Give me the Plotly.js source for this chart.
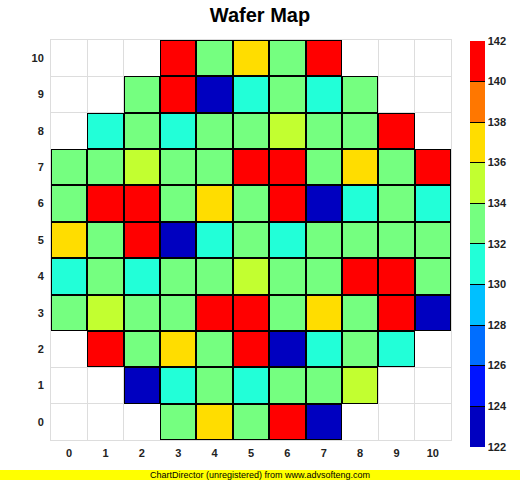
<!DOCTYPE html>
<html>
<head>
<meta charset="utf-8">
<script src="https://cdn.plot.ly/plotly-3.0.1.min.js"></script>
<style>html,body{margin:0;padding:0;background:#fff}#chart{width:520px;height:480px}</style>
</head>
<body>
<div id="chart"></div>
<script>
// Grid coordinates and tick labels
const xCats = [0,1,2,3,4,5,6,7,8,9,10];
const yCats = [0,1,2,3,4,5,6,7,8,9,10];
// Cell values, one array per row (y = 0 .. 10); null = no die
const row0  = [null,null,null,133,137,133,141,123,null,null,null];
const row1  = [null,null,123,131,133,131,133,133,135,null,null];
const row2  = [null,141,133,137,133,141,123,131,133,131,null];
const row3  = [133,135,133,133,141,141,133,137,133,141,123];
const row4  = [131,133,131,133,133,135,133,133,141,141,133];
const row5  = [137,133,141,123,131,133,131,133,133,133,133];
const row6  = [133,141,141,133,137,133,141,123,131,133,131];
const row7  = [133,133,135,133,133,141,141,133,137,133,141];
const row8  = [null,131,133,131,133,133,135,133,133,141,null];
const row9  = [null,null,133,141,123,131,133,131,133,null,null];
const row10 = [null,null,null,141,133,137,133,141,null,null,null];
// Color bands 122..142, step 2
const bandColors = ['#0000C0','#0014FF','#006EFF','#00C0FF','#22FFD8','#75FF80','#C2FF30','#FFDD00','#FF7700','#FF0000'];
const zMin = 122, zMax = 142;
const colorTicks = [122,124,126,128,130,132,134,136,138,140,142];

const z = [row0,row1,row2,row3,row4,row5,row6,row7,row8,row9,row10];
const mask = z.map(r => r.map(v => v === null ? null : 1));
const cs = [];
bandColors.forEach((c,i) => {
  cs.push([i/bandColors.length, c]);
  cs.push([(i+1)/bandColors.length, c]);
});

const F = 'Liberation Sans, Arial, sans-serif';
const under = {
  type:'heatmap', x:xCats, y:yCats, z:mask,
  colorscale:[[0,'#000'],[1,'#000']], showscale:false, hoverinfo:'skip', zmin:0, zmax:1
};
const main = {
  type:'heatmap', x:xCats, y:yCats, z:z,
  colorscale:cs, zmin:zMin, zmax:zMax, xgap:2, ygap:2,
  colorbar:{
    x:1.0475, xanchor:'left', xpad:0, ypad:0,
    y:0.998, yanchor:'top', lenmode:'pixels', len:406,
    thicknessmode:'pixels', thickness:15, outlinewidth:0,
    tickvals:colorTicks, ticktext:colorTicks.map(v=>'<b>'+v+'</b>'),
    ticks:'inside', ticklen:15, tickcolor:'#000', tickwidth:1,
    ticklabelstandoff:3,
    tickfont:{family:F, size:11, color:'#222'}
  }
};
const axisCommon = {
  range:[-0.5,10.5], tickvals:xCats, ticktext:xCats.map(v=>'<b>'+v+'</b>'),
  showgrid:false, zeroline:false, ticks:'', fixedrange:true,
  showline:true, mirror:true, linecolor:'#dddddd', linewidth:1,
  minor:{tick0:0.5, dtick:1, showgrid:true, gridcolor:'#dddddd', gridwidth:1, ticks:''},
  tickfont:{family:F, size:11, color:'#222'}
};
const layout = {
  width:520, height:480,
  margin:{l:51, r:69, t:40, b:40, autoexpand:false},
  paper_bgcolor:'#fff', plot_bgcolor:'#fff',
  title:{text:'<b>Wafer Map</b>', font:{family:F, size:20, color:'#000'}, x:0.5, xanchor:'center', y:0.968, yanchor:'middle'},
  xaxis:Object.assign({}, axisCommon, {ticklabelstandoff:3}),
  yaxis:Object.assign({}, axisCommon, {ticklabelstandoff:4}),
  shapes:[{type:'rect', xref:'paper', yref:'paper', x0:-0.2, x1:1.3, y0:-0.075, y1:-0.1, fillcolor:'#FFFF00', line:{width:0}, layer:'above'}],
  annotations:[{xref:'paper', yref:'paper', x:(260-51)/400, y:-0.0875, xanchor:'center', yanchor:'middle', showarrow:false,
    text:'ChartDirector (unregistered) from www.advsofteng.com', font:{family:F, size:9, color:'#000'}}]
};
Plotly.newPlot('chart', [under, main], layout, {displayModeBar:false, staticPlot:true});
</script>
</body>
</html>
